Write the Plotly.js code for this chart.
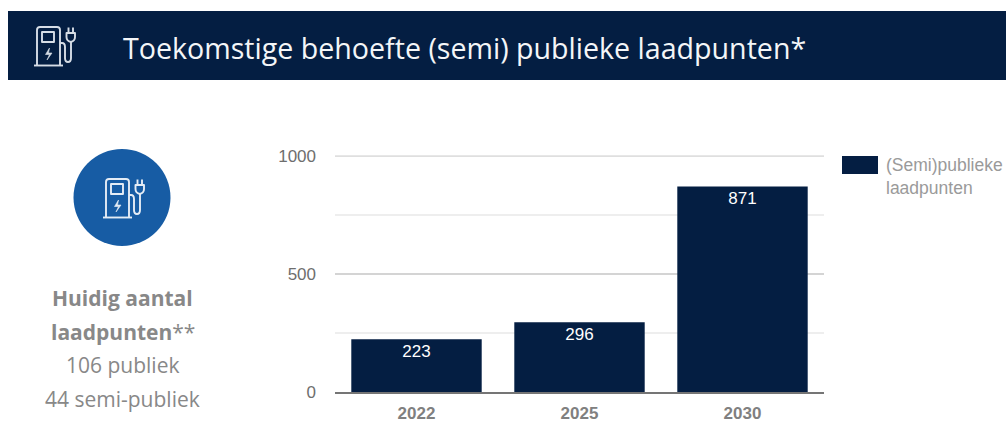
<!DOCTYPE html>
<html><head><meta charset="utf-8">
<script src="https://cdn.plot.ly/plotly-3.0.1.min.js"></script>
<style>html,body{margin:0;padding:0;background:#fff;overflow:hidden}</style>
</head><body><div id="chart" style="width:1006px;height:422px"></div>
<script>
const categories = ['2022', '2025', '2030'];
const values = [223, 296, 871];
const seriesName = '(Semi)publieke<br>laadpunten';
const bannerTitle = 'Toekomstige behoefte (semi) publieke laadpunten*';
const sideLines = [
  {t: '<b>Huidig aantal</b>', y: 298},
  {t: '<b>laadpunten</b>**', y: 332},
  {t: '106 publiek', y: 365},
  {t: '44 semi-publiek', y: 399}
];
const navy = '#041e42';
const W = 1006, H = 422;
const X = x => x / W, Y = y => 1 - y / H;

function icon(color) {
  const svg = `<svg xmlns="http://www.w3.org/2000/svg" viewBox="0 0 42 42" width="168" height="168"><g fill="none" stroke="${color}" stroke-width="1.9" stroke-linejoin="round"><path d="M3,40.5V5Q3,2 6,2H23Q26,2 26,5V40.5"/><path d="M0,40.5H29"/><rect x="8" y="7" width="12" height="10"/><path d="M15.5,23L11.5,29.5H15.5L13,35L18,28H14.5Z" fill="${color}" stroke-width="0.6"/><path d="M26,18H28Q31,18 31,22V33Q31,37 34,37Q37,37 37,33V17"/><path d="M32.5,8H41V12Q41,16 36.8,17Q32.5,16 32.5,12Z"/><path d="M34.5,2.5V8M39,2.5V8"/></g></svg>`;
  return 'data:image/svg+xml;base64,' + btoa(svg);
}

const trace = {
  type: 'bar', x: categories, y: values, name: seriesName,
  marker: {color: navy, line: {color: 'rgba(0,0,0,0)', width: 3}},
  text: values.map(String), textposition: 'inside', insidetextanchor: 'end',
  textangle: 0, insidetextfont: {family: 'Liberation Sans', size: 17, color: '#fff'},
  cliponaxis: false, hoverinfo: 'x+y'
};

const annotations = sideLines.map(l => ({
  xref: 'paper', yref: 'paper', x: X(122.5), y: Y(l.y), text: l.t, showarrow: false,
  xanchor: 'center', yanchor: 'middle',
  font: {family: 'Open Sans', size: 21, color: '#888888'}
}));
annotations.push({
  xref: 'paper', yref: 'paper', x: X(121), y: Y(48), text: bannerTitle, showarrow: false,
  xanchor: 'left', yanchor: 'middle', font: {family: 'Open Sans', size: 28.6, color: '#f4f6f8'}
});
annotations.push({
  xref: 'paper', yref: 'paper', x: X(884), y: Y(176), text: seriesName, showarrow: false, align: 'left',
  xanchor: 'left', yanchor: 'middle', font: {family: 'Liberation Sans', size: 17.5, color: '#9a9a9a'}
});

const layout = {
  width: W, height: H, margin: {l: 0, r: 0, t: 0, b: 0},
  paper_bgcolor: '#fff', plot_bgcolor: '#fff', showlegend: false, bargap: 0.2,
  font: {family: 'Liberation Sans'},
  xaxis: {
    domain: [X(335), X(824)], type: 'category', fixedrange: true,
    showline: true, linecolor: '#757575', linewidth: 2, ticks: '', showgrid: false, zeroline: false,
    tickfont: {family: 'Liberation Sans', size: 17, weight: 'bold', color: '#808080'},
    tickangle: 0, ticklabelstandoff: 5
  },
  yaxis: {
    domain: [Y(392), Y(155.3)], range: [0, 1003], fixedrange: true,
    tickvals: [0, 500, 1000], ticks: '', showline: false, zeroline: false,
    gridcolor: '#d4d4d4', gridwidth: 1.5,
    minor: {tickvals: [250, 750], showgrid: true, gridcolor: '#eeeeee', gridwidth: 1.5, ticks: ''},
    tickfont: {family: 'Liberation Sans', size: 17, color: '#6e6e6e'},
    ticklabelstandoff: 18
  },
  shapes: [
    {type: 'rect', xref: 'paper', yref: 'paper', x0: X(8), x1: X(1006), y0: Y(80), y1: Y(11), fillcolor: navy, line: {width: 0}, layer: 'below'},
    {type: 'circle', xref: 'paper', yref: 'paper', x0: X(73.5), x1: X(170.5), y0: Y(246), y1: Y(149), fillcolor: '#175ca4', line: {width: 0}, layer: 'below'},
    {type: 'rect', xref: 'paper', yref: 'paper', x0: X(842), x1: X(878), y0: Y(174), y1: Y(156), fillcolor: navy, line: {width: 0}},
    {type: 'line', xref: 'paper', yref: 'y', x0: X(335), x1: X(824), y0: 1000, y1: 1000, line: {color: '#d4d4d4', width: 1.5}, layer: 'below'}
  ],
  images: [
    {source: icon('#d6dde6'), xref: 'paper', yref: 'paper', x: X(34), y: Y(25), sizex: 42 / W, sizey: 42 / H, xanchor: 'left', yanchor: 'top', sizing: 'stretch', layer: 'above'},
    {source: icon('#e4ecf5'), xref: 'paper', yref: 'paper', x: X(103), y: Y(177), sizex: 42 / W, sizey: 42 / H, xanchor: 'left', yanchor: 'top', sizing: 'stretch', layer: 'above'}
  ],
  annotations
};
Plotly.newPlot('chart', [trace], layout, {displayModeBar: false, responsive: false});
</script></body></html>
